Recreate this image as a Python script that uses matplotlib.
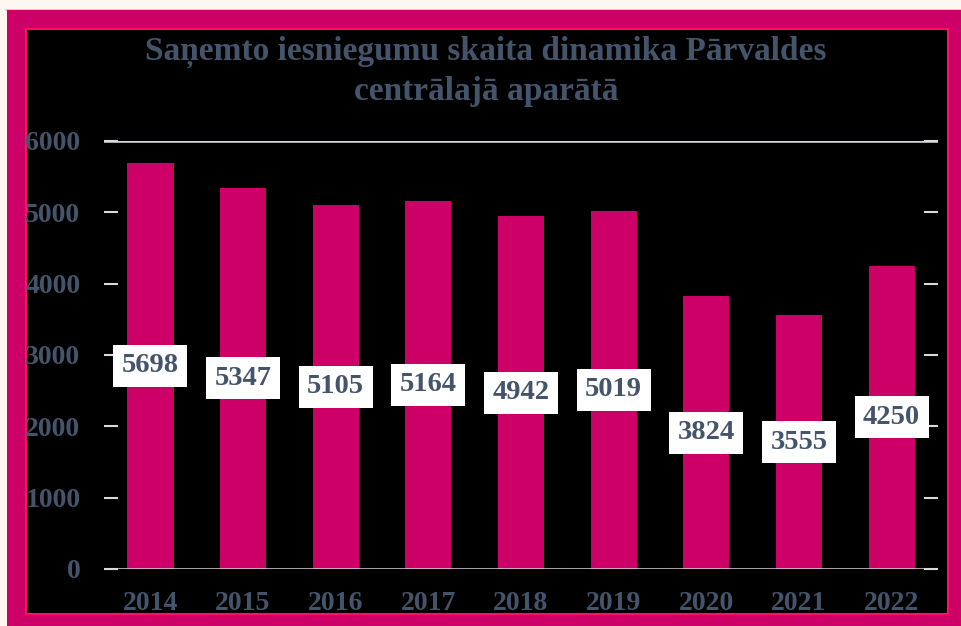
import matplotlib.pyplot as plt
from matplotlib.patches import Rectangle
from matplotlib.lines import Line2D

years = ['2014', '2015', '2016', '2017', '2018', '2019', '2020', '2021', '2022']
counts = [5698, 5347, 5105, 5164, 4942, 5019, 3824, 3555, 4250]
y_ticks = [0, 1000, 2000, 3000, 4000, 5000, 6000]

title = 'Saņemto iesniegumu skaita dinamika Pārvaldes\ncentrālajā aparātā'

W, H = 961, 626
bar_col = '#CC0066'
txt_col = '#44546A'
font = 'Liberation Serif'

fig = plt.figure(figsize=(W / 100, H / 100), dpi=100, facecolor='#FDF6F1')

# outer magenta frame and black panel (behind the axes)
fig.add_artist(Line2D([6 / W, 1], [1 - 9.5 / H, 1 - 9.5 / H], color='#C8C8D0', lw=1.2,
                      zorder=-12))
fig.add_artist(Rectangle((7 / W, 0), 1 - 7 / W, 1 - 10 / H, transform=fig.transFigure,
                         facecolor=bar_col, edgecolor='none', zorder=-11))
fig.add_artist(Rectangle((26 / W, 1 - 614 / H), (948 - 26) / W, (614 - 29) / H,
                         transform=fig.transFigure, facecolor='black',
                         edgecolor='#FF1060', lw=1.5, zorder=-10))

ax = fig.add_axes([104 / W, 1 - 569 / H, (938 - 104) / W, (569 - 141) / H])
ax.set_facecolor('none')

x = list(range(len(years)))
ax.bar(x, counts, width=0.5, color=bar_col, zorder=2)

for xi, v in zip(x, counts):
    ax.text(xi, v / 2, str(v), ha='center', va='center', fontsize=20.5,
            fontweight='bold', family=font, color=txt_col, zorder=4,
            bbox=dict(boxstyle='square,pad=0.3', facecolor='white', edgecolor='none'))

ax.set_xlim(-0.5, len(years) - 0.5)
ax.set_ylim(0, 6000)
for s in ax.spines.values():
    s.set_visible(False)
ax.axhline(0, color='#D9D9DE', lw=1.8, zorder=3)
ax.axhline(6000, color='#D9D9DE', lw=1.8, zorder=3)

ax.set_yticks(y_ticks)
ax.set_yticklabels([str(t) for t in y_ticks])
ax.tick_params(axis='y', direction='in', length=10, width=1.5, color='#D9D9D9',
               left=True, right=True, pad=17)
ax.set_xticks(x)
ax.set_xticklabels(years)
ax.tick_params(axis='x', length=0, pad=16)
for lab in ax.get_xticklabels() + ax.get_yticklabels():
    lab.set_fontsize(20)
    lab.set_fontweight('bold')
    lab.set_family(font)
    lab.set_color(txt_col)

fig.text(486 / W, 1 - 71 / H, title, ha='center', va='center', fontsize=24,
         fontweight='bold', family=font, color=txt_col, linespacing=1.35)

fig.savefig('out.png', dpi=100, facecolor=fig.get_facecolor())
